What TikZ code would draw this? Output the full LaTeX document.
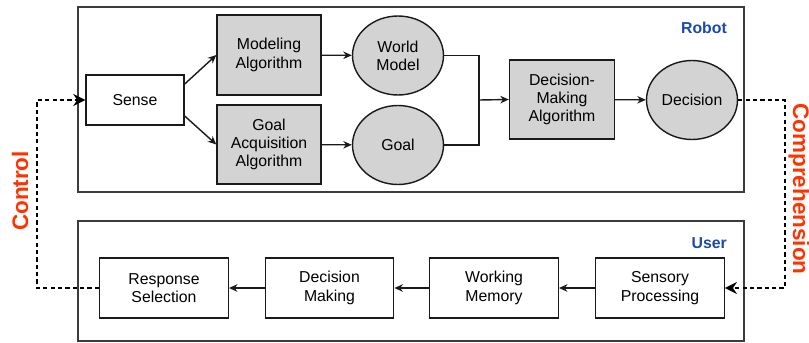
\documentclass[tikz,border=0pt]{standalone}
\usepackage{fontspec}
\setmainfont{Liberation Sans}
\usetikzlibrary{arrows.meta,positioning,shapes.geometric,calc}
\usepackage{xcolor}
\definecolor{boxgray}{HTML}{D3D3D3}
\definecolor{dark}{HTML}{1A1A1A}
\definecolor{labelblue}{HTML}{1A4BA6}
\definecolor{loopred}{HTML}{FF3300}
\tikzset{
  box/.style={draw=dark, thick, align=center, fill=white, inner sep=0pt, font=\fontsize{9}{10.4}\selectfont},
  graybox/.style={box, fill=boxgray},
  oval/.style={box, ellipse, fill=boxgray, minimum width=1.82cm, minimum height=1.58cm},
  frame/.style={draw=dark!85, thick},
  arrow/.style={-{Stealth[length=1.7mm,width=1.5mm]}, thick, draw=dark},
  loop/.style={-{Stealth[length=2.4mm,width=2.4mm]}, line width=1.4pt, draw=black, dash pattern=on 2.4pt off 1.8pt},
  side/.style={text=loopred, inner sep=0pt, font=\fontsize{12.8}{13}\selectfont\bfseries},
  owner/.style={text=labelblue, font=\fontsize{9}{9}\selectfont\bfseries, anchor=east}
}

\begin{document}
\begin{tikzpicture}[x=0.02cm, y=-0.02cm]
  \useasboundingbox (0,0) rectangle (809,342);

  % the two frames
  \draw[frame] (78,7) rectangle (744,192);
  \draw[frame] (78,221) rectangle (744,341);
  \node[owner] (robot) at (733,28) {Robot};
  \node[owner] (user) at (733,243) {User};

  % robot side
  \node[box, minimum width=1.96cm, minimum height=1.0cm] (sense) at (135,100) {Sense};
  \node[graybox, minimum width=2.08cm, minimum height=1.6cm] (modeling) at (269,55) {Modeling\\Algorithm};
  \node[graybox, minimum width=2.08cm, minimum height=1.58cm] (acquire) at (269,144.5) {Goal\\Acquisition\\Algorithm};
  \node[oval] (world) at (398,55.5) {World\\Model};
  \node[oval] (goal) at (398,145) {Goal};
  \node[graybox, minimum width=2.1cm, minimum height=1.58cm] (deciding) at (562,99.5) {Decision-\\Making\\Algorithm};
  \node[oval] (decision) at (692,100) {Decision};
  \coordinate (join) at (479,100);

  \draw[arrow] ([yshift=0.32cm]sense.east) -- (modeling.west);
  \draw[arrow] ([yshift=-0.32cm]sense.east) -- (acquire.west);
  \draw[arrow] (modeling) -- (world);
  \draw[arrow] (acquire) -- (goal);
  \draw[thick, draw=dark] (world.east) -| (join);
  \draw[thick, draw=dark] (goal.east) -| (join);
  \draw[arrow] (join) -- (deciding.west);
  \draw[arrow] (deciding) -- (decision);

  % user side
  \node[box, minimum width=2.57cm, minimum height=1.2cm] (response) at (164,288) {Response\\Selection};
  \node[box, minimum width=2.57cm, minimum height=1.2cm] (making) at (329.5,288) {Decision\\Making};
  \node[box, minimum width=2.57cm, minimum height=1.2cm] (memory) at (494,288) {Working\\Memory};
  \node[box, minimum width=2.57cm, minimum height=1.2cm] (sensory) at (660,288) {Sensory\\Processing};

  \draw[arrow] (sensory) -- (memory);
  \draw[arrow] (memory) -- (making);
  \draw[arrow] (making) -- (response);

  % dashed loops between robot and user
  \coordinate (rightbend) at (785,100);
  \coordinate (leftbend) at (37,288);
  \draw[loop] (decision.east) -- (rightbend) |- (sensory.east);
  \draw[loop] (response.west) -- (leftbend) |- (sense.west);
  \node[side, rotate=90] (control) at (20,191) {Control};
  \node[side, rotate=-90] (comprehension) at (799,189) {Comprehension};
\end{tikzpicture}
\end{document}
